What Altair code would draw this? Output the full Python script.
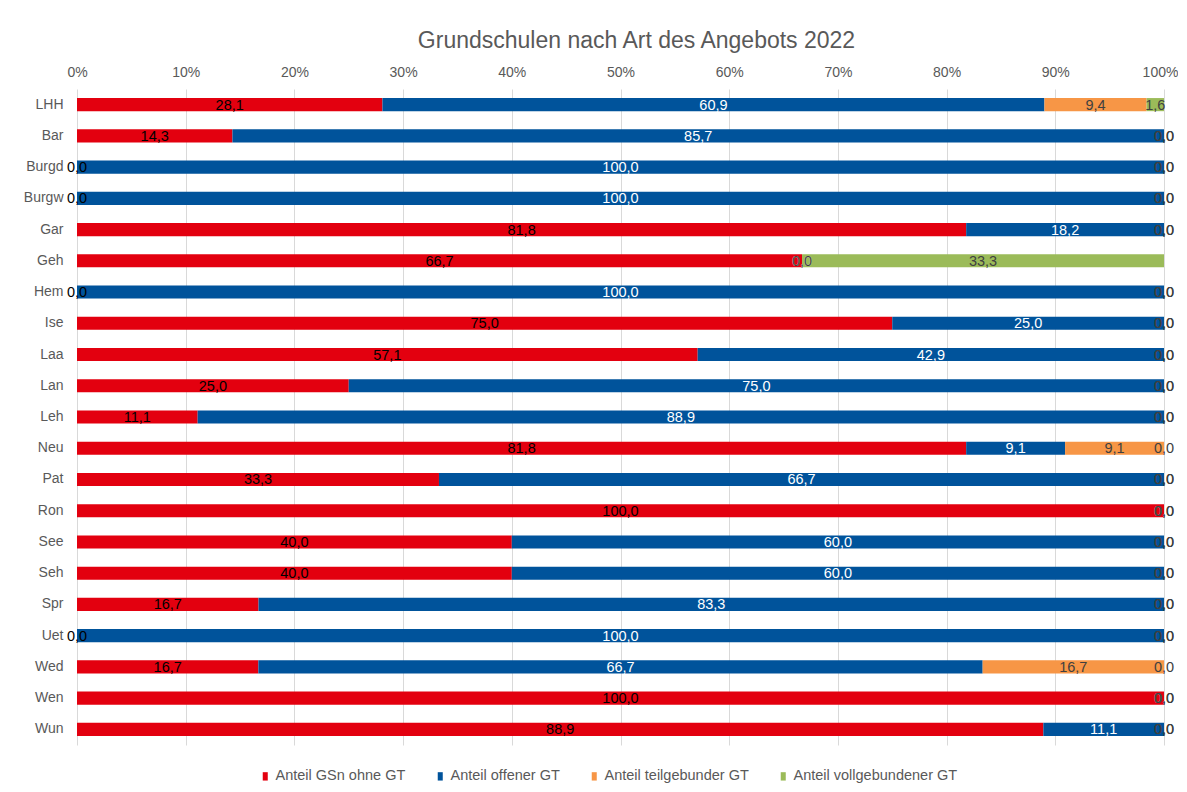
import altair as alt
import pandas as pd

categories = ["LHH", "Bar", "Burgd", "Burgw", "Gar", "Geh", "Hem", "Ise", "Laa", "Lan", "Leh",
              "Neu", "Pat", "Ron", "See", "Seh", "Spr", "Uet", "Wed", "Wen", "Wun"]
series = ["Anteil GSn ohne GT", "Anteil offener GT", "Anteil teilgebunder GT", "Anteil vollgebundener GT"]

ohne_gt = [28.1, 14.3, 0.0, 0.0, 81.8, 66.7, 0.0, 75.0, 57.1, 25.0, 11.1,
           81.8, 33.3, 100.0, 40.0, 40.0, 16.7, 0.0, 16.7, 100.0, 88.9]
offener_gt = [60.9, 85.7, 100.0, 100.0, 18.2, 0.0, 100.0, 25.0, 42.9, 75.0, 88.9,
              9.1, 66.7, 0.0, 60.0, 60.0, 83.3, 100.0, 66.7, 0.0, 11.1]
teilgeb_gt = [9.4, 0.0, 0.0, 0.0, 0.0, 0.0, 0.0, 0.0, 0.0, 0.0, 0.0,
              9.1, 0.0, 0.0, 0.0, 0.0, 0.0, 0.0, 16.7, 0.0, 0.0]
vollgeb_gt = [1.6, 0.0, 0.0, 0.0, 0.0, 33.3, 0.0, 0.0, 0.0, 0.0, 0.0,
              0.0, 0.0, 0.0, 0.0, 0.0, 0.0, 0.0, 0.0, 0.0, 0.0]

bar_colors = ["#E3000F", "#00539B", "#F79646", "#9BBB59"]
text_colors = ["#000000", "#FFFFFF", "#404040", "#404040"]

FONT = "Liberation Sans"
GRAY = "#595959"

rows = []
for si, (name, vals) in enumerate(zip(series, [ohne_gt, offener_gt, teilgeb_gt, vollgeb_gt])):
    for cat, v in zip(categories, vals):
        rows.append({
            "cat": cat,
            "series": name,
            "value": v,
            "order": si,
            "label": f"{v:.1f}".replace(".", ","),
            "tcolor": text_colors[si],
        })
df = pd.DataFrame(rows)

base = alt.Chart(df).transform_stack(
    stack="value",
    groupby=["cat"],
    as_=["x0", "x1"],
    sort=[alt.SortField("order", order="ascending")],
    offset="normalize",
).transform_calculate(mid="(datum.x0 + datum.x1) / 2")

y_enc = alt.Y(
    "cat:N",
    sort=categories,
    scale=alt.Scale(paddingInner=0.58, paddingOuter=0.29),
    axis=alt.Axis(title=None, domain=False, ticks=False, labelPadding=14, minExtent=64,
                  labelFontSize=14, labelColor=GRAY, labelFont=FONT),
)

bars = base.mark_bar().encode(
    x=alt.X(
        "x0:Q",
        scale=alt.Scale(domain=[0, 1], nice=False),
        axis=alt.Axis(orient="top", format=".0%", values=[i / 10 for i in range(11)],
                      title=None, domain=False, ticks=False, grid=True, gridColor="#D9D9D9",
                      labelFlush=False, labelOverlap=False,
                      labelOffset={"condition": {"test": "datum.value >= 1", "value": -4}, "value": 0},
                      labelFontSize=14, labelColor=GRAY, labelFont=FONT, labelPadding=10),
    ),
    x2="x1:Q",
    y=y_enc,
    color=alt.Color(
        "series:N",
        scale=alt.Scale(domain=series, range=bar_colors),
        legend=alt.Legend(
            title=None, orient="none", direction="horizontal", legendX=181, legendY=680,
            symbolType="M-0.6,-1L0.6,-1L0.6,1L-0.6,1Z", symbolSize=70, symbolStrokeWidth=0,
            labelFontSize=14.5, labelColor=GRAY, labelFont=FONT, labelOffset=3,
            labelLimit=0, columnPadding=27,
        ),
    ),
    order=alt.Order("order:Q"),
)

texts = base.mark_text(fontSize=14.5, font=FONT, dy=1).encode(
    x=alt.X("mid:Q"),
    y=alt.Y("cat:N", sort=categories),
    text="label:N",
    color=alt.Color("tcolor:N", scale=None),
)

chart = alt.layer(bars, texts).resolve_scale(color="independent").properties(
    width=1087,
    height=656,
    title=alt.TitleParams("Grundschulen nach Art des Angebots 2022", fontSize=23, color=GRAY,
                          font=FONT, fontWeight="normal", offset=12, dx=16),
    padding={"left": 5, "top": 22, "right": 0, "bottom": 0},
).configure_view(stroke=None)

chart.save("out.html", embed_options={"renderer": "svg", "actions": False})
